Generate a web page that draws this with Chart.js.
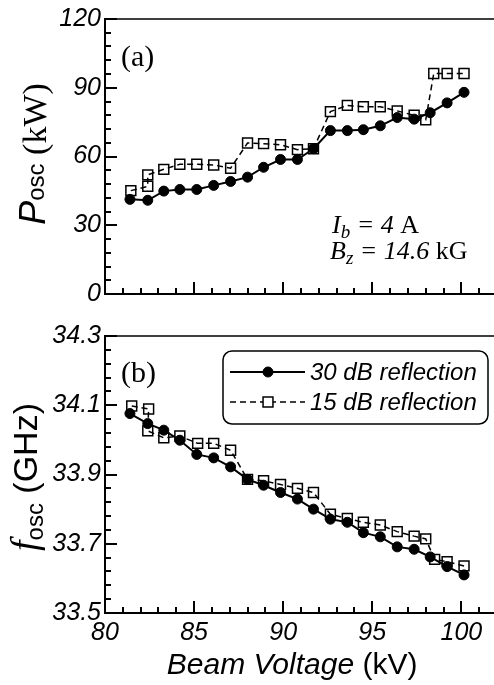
<!DOCTYPE html>
<html>
<head>
<meta charset="utf-8">
<script src="https://cdn.jsdelivr.net/npm/chart.js@4.4.0/dist/chart.umd.min.js"></script>
<style>
html, body { margin: 0; padding: 0; background: #fff; overflow: hidden; width: 494px; height: 685px; }
canvas { position: absolute; left: 0; }
#powerChart { top: 0; }
#freqChart { top: 310px; }
</style>
</head>
<body>
<canvas id="powerChart" width="498" height="313"></canvas>
<canvas id="freqChart" width="498" height="375"></canvas>
<script>
// 30 dB reflection (filled circles)
const voltage30 = [81.4, 82.4, 83.3, 84.2, 85.15, 86.1, 87.05, 88.0, 88.9, 89.85, 90.8, 91.7, 92.65, 93.6, 94.5, 95.45, 96.4, 97.35, 98.25, 99.2, 100.15];
const power30 = [41.3, 40.9, 44.9, 45.6, 45.6, 47.4, 49.1, 51.0, 55.3, 58.7, 58.7, 63.4, 71.3, 71.3, 71.7, 73.4, 77.0, 76.3, 79.1, 83.4, 88.0];
const freq30 = [34.076, 34.047, 34.028, 33.999, 33.958, 33.948, 33.922, 33.886, 33.869, 33.848, 33.829, 33.800, 33.771, 33.762, 33.732, 33.720, 33.691, 33.684, 33.662, 33.634, 33.610];

// 15 dB reflection (open squares)
const voltage15Power = [81.45, 82.4, 82.4, 83.3, 84.2, 85.15, 86.1, 87.05, 88.0, 88.9, 89.85, 90.8, 91.7, 92.65, 93.6, 94.5, 95.45, 96.4, 97.35, 98.0, 98.45, 99.2, 100.15];
const power15 = [45.1, 47.0, 52.0, 54.4, 56.6, 56.6, 56.3, 54.9, 65.9, 65.6, 65.1, 63.0, 63.4, 79.6, 82.3, 81.7, 81.7, 79.9, 78.0, 76.0, 96.2, 96.2, 96.2];
const voltage15Freq = [81.5, 82.45, 82.4, 83.3, 84.2, 85.2, 86.1, 87.05, 88.0, 88.9, 89.85, 90.8, 91.7, 92.65, 93.6, 94.5, 95.45, 96.4, 97.35, 98.0, 98.5, 99.2, 100.15];
const freq15 = [34.098, 34.089, 34.026, 34.006, 34.011, 33.990, 33.990, 33.970, 33.886, 33.882, 33.871, 33.860, 33.848, 33.785, 33.773, 33.762, 33.754, 33.735, 33.722, 33.714, 33.655, 33.648, 33.636];

const voltageTicks = [80, 85, 90, 95, 100];
const powerTicks = [0, 30, 60, 90, 120];
const freqTicks = [33.5, 33.7, 33.9, 34.1, 34.3];
const seriesNames = ['30 dB reflection', '15 dB reflection'];

const SANS = '"Liberation Sans", Arial, sans-serif';
const SERIF = '"Liberation Serif", "Times New Roman", serif';

function toPoints(xs, ys) {
    return xs.map((x, i) => ({ x: x, y: ys[i] }));
}

function makeDatasets(xs30, ys30, xs15, ys15) {
    return [{
        label: seriesNames[0],
        data: toPoints(xs30, ys30),
        showLine: true,
        borderColor: '#000',
        borderWidth: 2,
        pointStyle: 'circle',
        pointRadius: 5,
        pointBackgroundColor: '#000',
        pointBorderColor: '#000',
        pointBorderWidth: 1
    }, {
        label: seriesNames[1],
        data: toPoints(xs15, ys15),
        showLine: true,
        borderColor: '#000',
        borderWidth: 1.5,
        borderDash: [6, 4],
        pointStyle: 'rect',
        pointRadius: 7,
        pointBackgroundColor: 'rgba(255,255,255,0)',
        pointBorderColor: '#000',
        pointBorderWidth: 1.5
    }];
}

function xScale(showLabels) {
    return {
        type: 'linear',
        min: 80,
        max: 102,
        grid: { display: false, drawTicks: false },
        border: { display: true, color: '#000', width: 2 },
        ticks: {
            display: showLabels,
            color: '#000',
            padding: 5,
            maxRotation: 0,
            autoSkip: false,
            font: { family: SANS, size: 25, style: 'italic' }
        },
        afterBuildTicks: s => { s.ticks = voltageTicks.map(v => ({ value: v })); },
        afterFit: s => { s.height = showLabels ? 72 : 0; }
    };
}

function yScale(min, max, ticks, digits) {
    return {
        type: 'linear',
        min: min,
        max: max,
        grid: { display: false, drawTicks: false },
        border: { display: true, color: '#000', width: 2 },
        ticks: {
            color: '#000',
            padding: 4,
            font: { family: SANS, size: 25, style: 'italic' },
            callback: v => Number(v).toFixed(digits)
        },
        afterBuildTicks: s => { s.ticks = ticks.map(v => ({ value: v })); },
        afterFit: s => { s.width = 105; }
    };
}

// frame on top/right and inward pointing ticks
const frameTicks = {
    id: 'frameTicks',
    afterDraw(chart, args, opts) {
        const { ctx, chartArea: a, scales: { x, y } } = chart;
        ctx.save();
        ctx.strokeStyle = '#000';
        ctx.lineWidth = 1.5;
        ctx.beginPath();
        ctx.moveTo(a.left, a.top);
        ctx.lineTo(a.right, a.top);
        ctx.lineTo(a.right, a.bottom);
        ctx.stroke();
        ctx.lineWidth = 2;
        ctx.beginPath();
        for (let i = 0; x.min + i <= x.max; i++) {
            const px = Math.round(x.getPixelForValue(x.min + i));
            const len = i % 5 === 0 ? 12 : 6;
            ctx.moveTo(px, a.bottom);
            ctx.lineTo(px, a.bottom - len);
        }
        for (let i = 0; y.min + i * opts.yStep <= y.max + 1e-9; i++) {
            const py = Math.round(y.getPixelForValue(y.min + i * opts.yStep));
            const len = i % 5 === 0 ? 12 : 6;
            ctx.moveTo(a.left, py);
            ctx.lineTo(a.left + len, py);
        }
        ctx.stroke();
        ctx.restore();
    }
};

function drawParts(ctx, parts, x, y) {
    let xx = x;
    parts.forEach(p => {
        ctx.font = p.font;
        ctx.fillText(p.text, xx, y + (p.dy || 0));
        xx += ctx.measureText(p.text).width;
    });
}

function drawRotated(ctx, parts, bx, cy) {
    ctx.save();
    ctx.translate(bx, cy);
    ctx.rotate(-Math.PI / 2);
    let total = 0;
    parts.forEach(p => { ctx.font = p.font; total += ctx.measureText(p.text).width; });
    drawParts(ctx, parts, -total / 2, 0);
    ctx.restore();
}

const powerText = {
    id: 'powerText',
    afterDraw(chart) {
        const ctx = chart.ctx;
        ctx.save();
        ctx.fillStyle = '#000';
        ctx.textBaseline = 'alphabetic';
        drawRotated(ctx, [
            { text: 'P', font: 'italic 36px ' + SANS },
            { text: 'osc', font: '24px ' + SANS, dy: -1 },
            { text: ' (kW)', font: '34px ' + SERIF, dy: 1 }
        ], 45, 154);
        ctx.font = '30px ' + SERIF;
        ctx.fillText('(a)', 121, 66);
        drawParts(ctx, [
            { text: 'I', font: 'italic 26px ' + SERIF },
            { text: 'b', font: 'italic 19px ' + SERIF, dy: 5 },
            { text: ' = 4 ', font: 'italic 26px ' + SERIF },
            { text: 'A', font: '26px ' + SERIF }
        ], 332, 233);
        drawParts(ctx, [
            { text: 'B', font: 'italic 26px ' + SERIF },
            { text: 'z', font: 'italic 19px ' + SERIF, dy: 5 },
            { text: ' = 14.6 ', font: 'italic 26px ' + SERIF },
            { text: 'kG', font: '26px ' + SERIF }
        ], 330, 259);
        ctx.restore();
    }
};

const freqText = {
    id: 'freqText',
    afterDraw(chart) {
        const ctx = chart.ctx;
        const ds = chart.data.datasets;
        ctx.save();
        ctx.fillStyle = '#000';
        ctx.textBaseline = 'alphabetic';
        drawRotated(ctx, [
            { text: 'f', font: 'italic 38px ' + SERIF },
            { text: 'osc', font: '24px ' + SANS, dy: 6 },
            { text: ' (GHz)', font: '34px ' + SANS }
        ], 37, 167);
        ctx.font = '30px ' + SERIF;
        ctx.fillText('(b)', 121, 72);
        const cx = chart.scales.x.getPixelForValue(90.5);
        ctx.font = 'italic 30px ' + SANS;
        const w1 = ctx.measureText('Beam Voltage ').width;
        ctx.font = '30px ' + SANS;
        const w2 = ctx.measureText('(kV)').width;
        drawParts(ctx, [
            { text: 'Beam Voltage ', font: 'italic 30px ' + SANS },
            { text: '(kV)', font: '30px ' + SANS }
        ], cx - (w1 + w2) / 2, 364);

        // legend box
        ctx.lineWidth = 1.5;
        ctx.strokeStyle = '#000';
        ctx.beginPath();
        ctx.roundRect(223, 41, 265, 73, 9);
        ctx.stroke();
        const rows = [62, 92];
        ds.forEach((d, i) => {
            const ry = rows[i];
            ctx.save();
            ctx.lineWidth = d.borderWidth;
            ctx.setLineDash(d.borderDash || []);
            ctx.beginPath();
            ctx.moveTo(230, ry);
            ctx.lineTo(305, ry);
            ctx.stroke();
            ctx.restore();
            ctx.save();
            ctx.fillStyle = i === 0 ? '#000' : '#fff';
            ctx.strokeStyle = '#000';
            ctx.lineWidth = d.pointBorderWidth;
            Chart.helpers.drawPoint(ctx, {
                pointStyle: d.pointStyle,
                radius: d.pointRadius,
                rotation: 0,
                borderWidth: d.pointBorderWidth
            }, 268, ry);
            ctx.restore();
            ctx.font = 'italic 24px ' + SANS;
            ctx.fillText(d.label, 310, ry + 8);
        });
        ctx.restore();
    }
};

const common = {
    responsive: false,
    animation: false,
    events: [],
    plugins: { legend: { display: false }, tooltip: { enabled: false } }
};

new Chart(document.getElementById('powerChart'), {
    type: 'scatter',
    data: { datasets: makeDatasets(voltage30, power30, voltage15Power, power15) },
    options: Object.assign({}, common, {
        layout: { autoPadding: false, padding: { top: 19, left: 0, right: 1, bottom: 15 } },
        scales: { x: xScale(false), y: yScale(0, 120, powerTicks, 0) },
        plugins: Object.assign({}, common.plugins, { frameTicks: { yStep: 6 } })
    }),
    plugins: [frameTicks, powerText]
});

new Chart(document.getElementById('freqChart'), {
    type: 'scatter',
    data: { datasets: makeDatasets(voltage30, freq30, voltage15Freq, freq15) },
    options: Object.assign({}, common, {
        layout: { autoPadding: false, padding: { top: 26, left: 0, right: 1, bottom: 0 } },
        scales: { x: xScale(true), y: yScale(33.5, 34.3, freqTicks, 1) },
        plugins: Object.assign({}, common.plugins, { frameTicks: { yStep: 0.04 } })
    }),
    plugins: [frameTicks, freqText]
});
</script>
</body>
</html>
